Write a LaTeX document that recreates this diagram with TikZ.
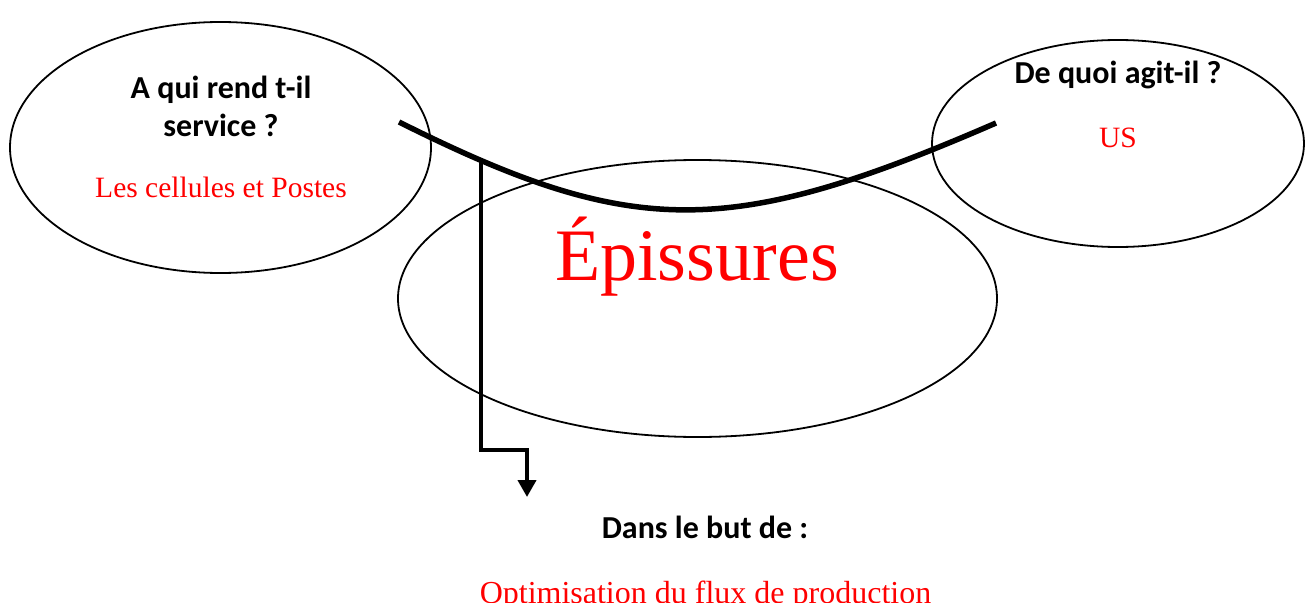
\documentclass[tikz,border=0pt]{standalone}
\usepackage{fontspec}
\setmainfont{Liberation Serif}
\newfontfamily\calib{Carlito}
\usetikzlibrary{shapes.geometric,arrows.meta}
\begin{document}
\begin{tikzpicture}[x=1pt,y=-1pt,
  bulle/.style={draw, ellipse, line width=1.8pt, inner sep=0pt},
  question/.style={font=\calib\bfseries\fontsize{32}{38}\selectfont, inner sep=0pt, anchor=base},
  reponse/.style={text=red, font=\fontsize{29.5}{34}\selectfont, inner sep=0pt, anchor=base},
  corne/.style={line width=5.5pt},
  fleche/.style={line width=4pt, line join=miter, -{Triangle[width=18pt,length=17pt]}}]
\useasboundingbox (0,0) rectangle (1311,610);
% ellipses
\node[bulle, minimum width=421pt, minimum height=251pt] (gauche) at (220.5,147.5) {};
\node[bulle, minimum width=372pt, minimum height=207pt] (droite) at (1118,143.5) {};
\node[bulle, minimum width=599pt, minimum height=277pt] (centre) at (697.5,298.5) {};
% texts
\node[question] (q1a) at (221,98) {A qui rend t-il};
\node[question] (q1b) at (221,136) {service ?};
\node[reponse] (r1) at (221,197) {Les cellules et Postes};
\node[question] (q2) at (1118,83) {De quoi agit-il ?};
\node[reponse] (r2) at (1118,147) {US};
\node[text=red, font=\fontsize{74}{80}\selectfont, inner sep=0pt, anchor=base] (produit) at (697,280) {Épissures};
\node[question] (q3) at (705,538) {Dans le but de :};
\begin{scope}
\clip (0,0) rectangle (1311,602);
\node[reponse, font=\fontsize{32}{34}\selectfont] (r3) at (705.5,603) {Optimisation du flux de production};
\end{scope}
% horns
\coordinate (h1) at (399,122);
\coordinate (h2) at (996,123);
\coordinate (tip) at (527,497);
\draw[corne] (h1) .. controls (633,239) and (729,239) .. (h2) coordinate[pos=0.125] (j);
\draw[fleche] (j) -- ++(0,290) -| (tip);
\end{tikzpicture}
\end{document}
